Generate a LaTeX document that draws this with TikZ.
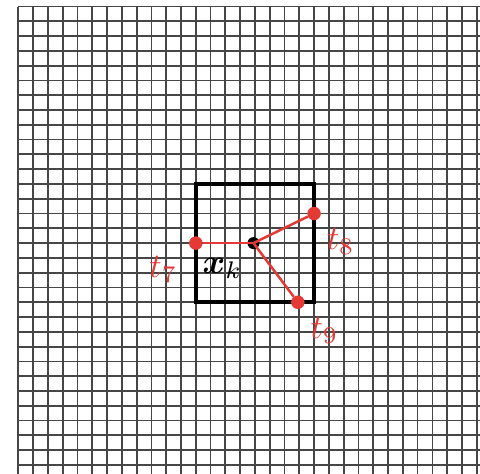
\documentclass[tikz,border=0pt]{standalone}
\usepackage{amsmath}
\usepackage{bm}
\usetikzlibrary{positioning}
\definecolor{ptRed}{RGB}{229,57,53}
\definecolor{gridGray}{RGB}{70,70,70}

\begin{document}
\begin{tikzpicture}[x=0.5cm, y=0.5cm,
    lbl/.style={scale=3.3},
    dot/.style={circle, inner sep=0pt, minimum size=13pt, fill=ptRed}]
    \useasboundingbox (-1.24,0.44) rectangle (31.22,-31.6);
    \clip (-1.24,0.44) rectangle (31.22,-31.6);
    \draw[gridGray, line width=1.7pt, step=1] (0,-32) grid (32,0);
    \draw[line width=3.6pt] (12,-12) rectangle (20,-20);
    % centre point and the three targets
    \node[circle, inner sep=0pt, minimum size=11.5pt, fill=black] (xk) at (15.9,-16) {};
    \node[dot] (t7) at (12,-16) {};
    \node[dot] (t8) at (20,-14) {};
    \node[dot] (t9) at (18.9,-20) {};
    \draw[ptRed, line width=1.8pt] (xk.center) -- (t7);
    \draw[ptRed, line width=2.4pt] (xk.center) -- (t8);
    \draw[ptRed, line width=2.4pt] (xk.center) -- (t9);
    \node[lbl, text=ptRed] (l7) at (9.8,-17.8) {$t_7$};
    \node[lbl, text=ptRed] (l8) at (21.8,-15.9) {$t_8$};
    \node[lbl, text=ptRed] (l9) at (20.7,-21.9) {$t_9$};
    \node[lbl] (lk) at (13.8,-17.7) {$\bm{x}_k$};
\end{tikzpicture}
\end{document}
